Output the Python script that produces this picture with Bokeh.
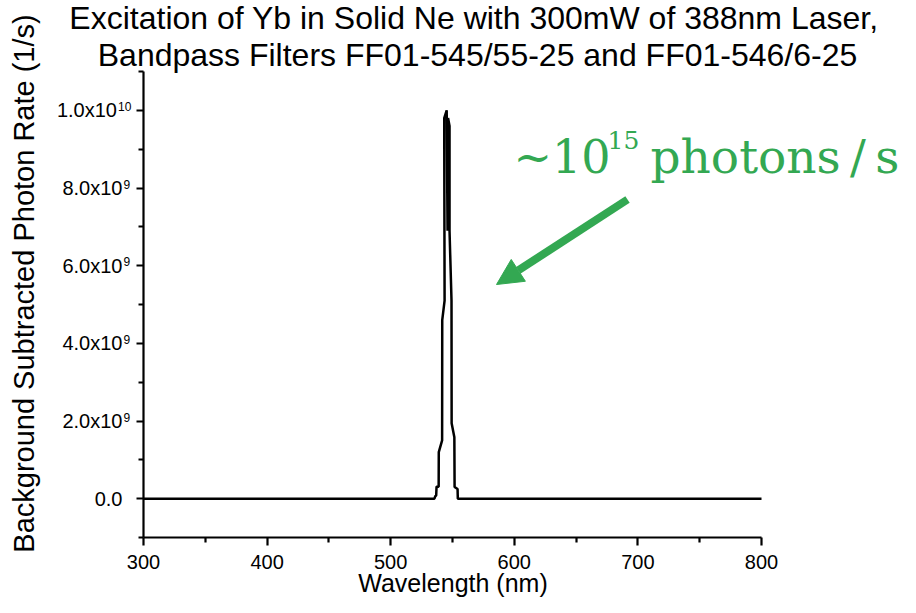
import numpy as np
from bokeh.plotting import figure
from bokeh.models import Range1d, FixedTicker, Label, Arrow, NormalHead
from bokeh.embed import file_html
from bokeh.resources import INLINE

# ---- data ----
wavelength_nm = [300, 535.4, 536.0, 536.8, 537.1, 538.8, 538.9, 541.6, 541.7, 543.6, 543.3,
                 545.3, 546.0, 546.4, 547.6, 547.6, 549.2, 549.3, 551.5, 551.7, 554.1, 554.3, 800]
photon_rate = [0, 0, 0.06e9, 0.08e9, 0.31e9, 0.31e9, 1.2e9, 1.5e9, 4.6e9, 5.1e9, 9.8e9,
               10.0e9, 6.9e9, 9.8e9, 9.6e9, 6.9e9, 5.1e9, 1.94e9, 1.58e9, 0.3e9, 0.25e9, 0, 0]

x_major = [300, 400, 500, 600, 700, 800]
x_minor = [350, 450, 550, 650, 750]
y_major = [0, 2e9, 4e9, 6e9, 8e9, 1e10]
y_minor = [-1e9, 1e9, 3e9, 5e9, 7e9, 9e9, 1.1e10]
y_tick_mantissa = ["0.0", "2.0x10", "4.0x10", "6.0x10", "8.0x10", "1.0x10\u00a0"]
y_tick_exponent = ["", "9", "9", "9", "9", "10"]

title_lines = ["Excitation of Yb in Solid Ne with 300mW of 388nm Laser,",
               "Bandpass Filters FF01-545/55-25 and FF01-546/6-25"]
x_label = "Wavelength (nm)"
y_label = "Background Subtracted Photon Rate (1/s)"
note_main = "~10"
note_sup = "15"
note_tail = "photons\u2009/\u2009s"
green = "#33a852"

# ---- layout: the frame covers the whole canvas, axes are pinned inside it ----
W, H = 900, 597
X0, X1 = 300, 800            # axis extent (data)
Y0, Y1 = -1e9, 1.1e10
PX0, PX1 = 143, 761          # where the axis extent sits (pixels)
PY1, PY0 = 71, 537
sx = (PX1 - PX0) / (X1 - X0)
sy = (PY0 - PY1) / (Y1 - Y0)
xr = Range1d(X0 - PX0 / sx, X1 + (W - PX1) / sx)
yr = Range1d(Y0 - (H - PY0) / sy, Y1 + PY1 / sy)
FIX = 0.4                    # baseline correction, in em

def dx(px):
    return X0 + (px - PX0) / sx

def dy(py):
    return Y0 + (PY0 - py) / sy

p = figure(width=W, height=H, x_range=xr, y_range=yr, output_backend="svg",
           toolbar_location=None, min_border=0)
p.outline_line_color = None
p.xgrid.visible = False
p.ygrid.visible = False

p.line(wavelength_nm, photon_rate, line_color="black", line_width=2.5)

for ax in (p.xaxis[0], p.yaxis[0]):
    ax.axis_line_width = 2.2
    ax.major_tick_line_width = 2.2
    ax.minor_tick_line_width = 2.2
    ax.major_tick_in = 0
    ax.minor_tick_in = 0
    ax.axis_line_color = "black"
    ax.major_tick_line_color = "black"
    ax.minor_tick_line_color = "black"
    ax.major_label_text_font = "Liberation Sans"
    ax.major_label_text_color = "black"

p.xaxis.fixed_location = Y0
p.xaxis.bounds = (X0, X1)
p.yaxis.fixed_location = X0
p.yaxis.bounds = (Y0, Y1)
p.xaxis.ticker = FixedTicker(ticks=x_major, minor_ticks=x_minor)
p.yaxis.ticker = FixedTicker(ticks=y_major, minor_ticks=y_minor)
p.xaxis.major_tick_out = 8
p.xaxis.minor_tick_out = 5
p.yaxis.major_tick_out = 7
p.yaxis.minor_tick_out = 5
p.xaxis.major_label_text_font_size = "20px"
p.xaxis.major_label_standoff = 9
p.yaxis.major_label_text_font_size = "20px"
p.yaxis.major_label_standoff = 14
p.yaxis.major_label_overrides = {v: m for v, m in zip(y_major, y_tick_mantissa)}

def lab(px, py, text, size, font="Liberation Sans", color="black", align="center",
        angle=0.0):
    # px, py: pixel position of the text's baseline anchor
    if angle == 0.0:
        py = py - FIX * size
    else:
        px = px - FIX * size
    p.add_layout(Label(x=dx(px), y=dy(py), text=text, text_font=font,
                       text_font_size=f"{size}px", text_color=color, text_align=align,
                       text_baseline="alphabetic", angle=angle))

# raised exponents of the y tick labels
for v, e in zip(y_major, y_tick_exponent):
    if e:
        py_tick = PY0 - (v - Y0) * sy
        lab(123 if len(e) == 1 else 117.5, py_tick + 1, e, 12, align="left")

lab(473.5, 30, title_lines[0], 32)
lab(477, 67, title_lines[1], 32)
lab(452.5, 592, x_label, 25)
lab(35, 283, y_label, 29, angle=np.pi / 2)

lab(513, 175, note_main, 46, font="DejaVu Serif", color=green, align="left")
lab(607, 149, note_sup, 25, font="DejaVu Serif", color=green, align="left")
lab(650, 175, note_tail, 47, font="DejaVu Serif", color=green, align="left")

p.add_layout(Arrow(x_start=dx(627), y_start=dy(199), x_end=dx(496), y_end=dy(284),
                   line_color=green, line_width=8,
                   end=NormalHead(size=26, fill_color=green, line_color=green, line_width=1)))

open("out.html", "w").write(file_html(p, INLINE))
